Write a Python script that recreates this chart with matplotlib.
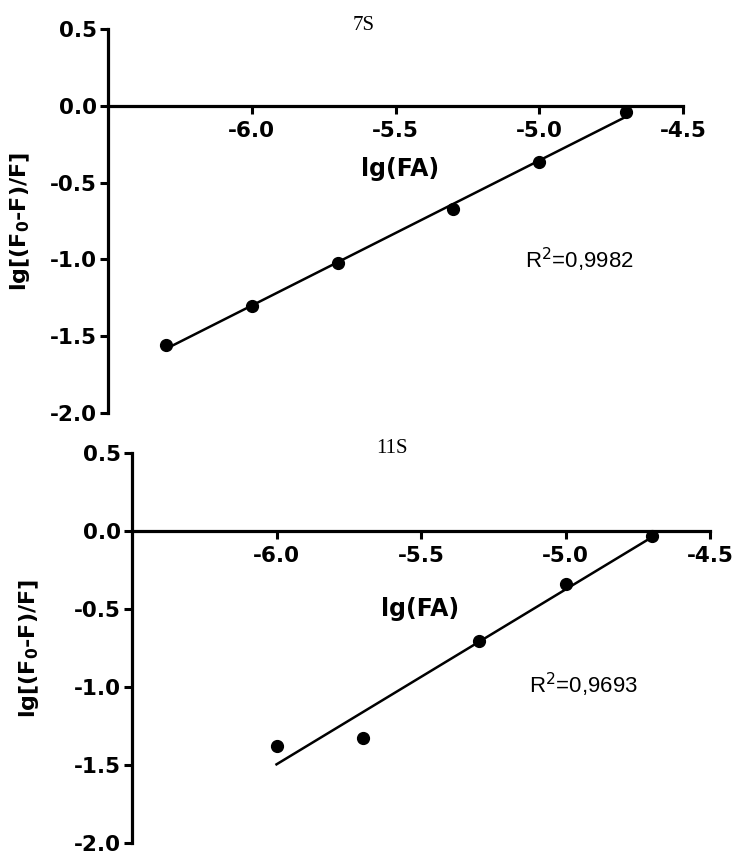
import numpy as np
import matplotlib
matplotlib.use("Agg")
import matplotlib.pyplot as plt
from matplotlib.ticker import FormatStrFormatter

plt.rcParams['axes.unicode_minus'] = False

# 7S data
x_7s = [-6.3, -6.0, -5.7, -5.3, -5.0, -4.7]
y_7s = [-1.56, -1.305, -1.026, -0.675, -0.364, -0.04]
r2_7s = "R$^2$=0,9982"

# 11S data
x_11s = [-6.0, -5.7, -5.3, -5.0, -4.7]
y_11s = [-1.378, -1.327, -0.705, -0.34, -0.03]
r2_11s = "R$^2$=0,9693"

x_ticks = [-6.0, -5.5, -5.0, -4.5]
y_ticks = [0.5, 0.0, -0.5, -1.0, -1.5, -2.0]

W, H = 737, 852
fig = plt.figure(figsize=(W / 100, H / 100), dpi=100)
fig.patch.set_facecolor('white')


def panel(rect, xs, ys, title, title_xy, r2, r2_xy, ylab_x, xlab_xy):
    ax = fig.add_axes(rect)
    ax.set_xlim(-6.5, -4.5)
    ax.set_ylim(-2.0, 0.5)

    for s in ['top', 'right']:
        ax.spines[s].set_visible(False)
    ax.spines['bottom'].set_position(('data', 0))
    ax.spines['left'].set_linewidth(2.3)
    ax.spines['bottom'].set_linewidth(2.3)

    ax.set_xticks(x_ticks)
    ax.set_yticks(y_ticks)
    ax.xaxis.set_major_formatter(FormatStrFormatter('%.1f'))
    ax.yaxis.set_major_formatter(FormatStrFormatter('%.1f'))
    ax.tick_params(axis='x', direction='out', length=6, width=2.2, pad=5)
    ax.tick_params(axis='y', direction='out', length=6, width=2.2, pad=2)
    for lab in ax.get_xticklabels() + ax.get_yticklabels():
        lab.set_fontfamily('DejaVu Sans')
        lab.set_fontweight('bold')
        lab.set_fontsize(15.5)

    # data + linear fit
    k, b = np.polyfit(xs, ys, 1)
    xf = np.array([min(xs), max(xs)])
    ax.plot(xf, k * xf + b, color='black', lw=1.8, zorder=2)
    ax.plot(xs, ys, 'o', color='black', ms=8.5, zorder=3, clip_on=False)

    ax.set_xlabel('lg(FA)', fontsize=17, fontweight='bold', family='DejaVu Sans')
    ax.xaxis.set_label_coords(*xlab_xy)
    ax.set_ylabel(r'lg[(F$_{\mathbf{0}}$-F)/F]', fontsize=16, fontweight='bold',
                  family='DejaVu Sans')
    ax.yaxis.set_label_coords(ylab_x, 0.5)

    fig.text(title_xy[0] / W, 1 - title_xy[1] / H, title, ha='center', va='center',
             family='Liberation Serif', fontsize=15)
    fig.text(r2_xy[0] / W, 1 - r2_xy[1] / H, r2, ha='center', va='center',
             family='Liberation Sans', fontsize=16)
    return ax


panel([108 / W, 1 - 413 / H, 575 / W, 384 / H], x_7s, y_7s,
      '7S', (364, 25), r2_7s, (579, 260), -0.132, (0.508, 0.667))
panel([132 / W, 1 - 843 / H, 578 / W, 390 / H], x_11s, y_11s,
      '11S', (392, 448), r2_11s, (583, 685), -0.158, (0.498, 0.631))

fig.savefig('out.png', dpi=100)
